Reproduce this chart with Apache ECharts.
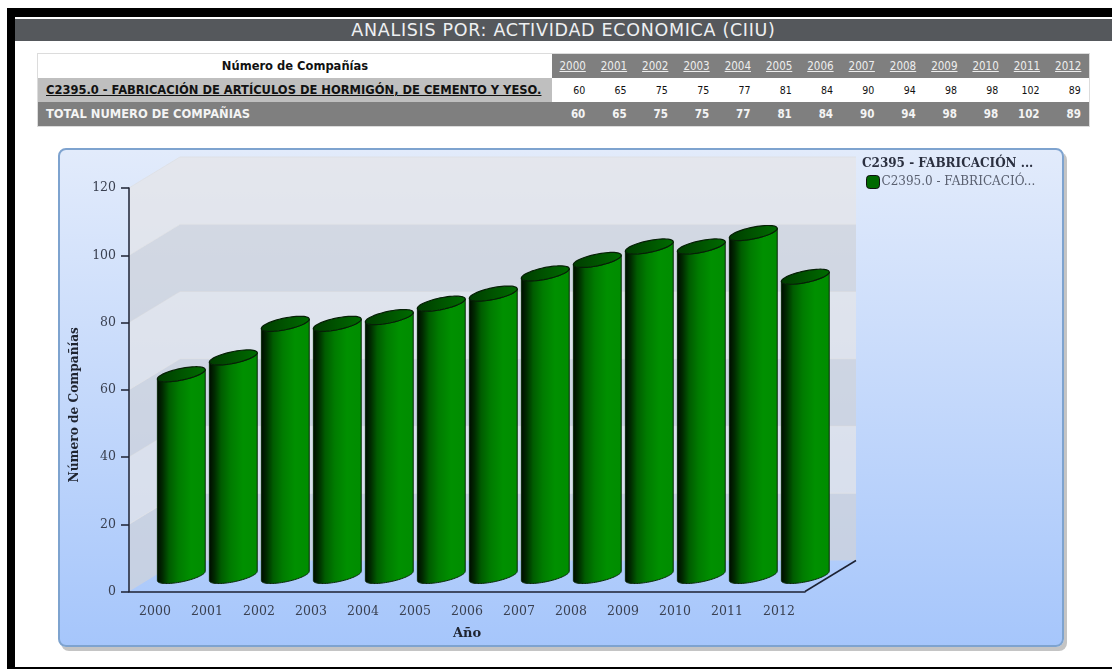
<!DOCTYPE html>
<html>
<head>
<meta charset="utf-8">
<title>Analisis por actividad economica</title>
<script src="https://cdn.jsdelivr.net/npm/echarts@6/dist/echarts.min.js"></script>
<style>
    html, body { margin: 0; padding: 0; background: #fff; }
    #page { position: relative; width: 1112px; height: 669px; overflow: hidden; background: #fff; }
    .black { position: absolute; background: #000; }
    #titlebar {
        position: absolute; left: 15px; right: 0; top: 19px; height: 22px;
        background: #55585c; color: #eef0f2; text-align: center;
        font: 17.5px/22px "DejaVu Sans", sans-serif; letter-spacing: 0.7px;
    }
    #tbl {
        position: absolute; left: 38px; top: 54px; border-collapse: collapse; table-layout: fixed;
        font-family: "DejaVu Sans Condensed", "DejaVu Sans", sans-serif; font-size: 10.5px; color: #111;
        box-shadow: 0 0 0 1px #dcdcdc;
    }
    #tbl td { height: 24px; padding: 0; white-space: nowrap; overflow: hidden; }
    #tbl .name { width: 514px; font-family: "DejaVu Sans", sans-serif; font-size: 11.5px; font-weight: bold; }
    #tbl .yr { width: 41.3px; }
    #tbl .hd { background: #fff; text-align: center; }
    #tbl .yrh { background: #7f7f7f; color: #eee; text-align: center; text-decoration: underline; font-size: 11.5px; }
    #tbl .cat { background: #bfbfbf; text-decoration: underline; padding-left: 8px; box-sizing: border-box; }
    #tbl .val { text-align: right; padding-right: 8px; box-sizing: border-box; }
    #tbl .tot { background: #7f7f7f; color: #f4f4f4; font-weight: bold; }
    #tbl .yr.tot { font-size: 11.5px; }
    #tbl .totn { padding-left: 8px; box-sizing: border-box; }
    #panel {
        position: absolute; left: 58px; top: 148px; width: 1006px; height: 499px; box-sizing: border-box;
        border: 2px solid #7ea3cf; border-radius: 8px;
        background: linear-gradient(#e2ebfb, #a6c6fb);
        box-shadow: 3px 4px 0 #c4c4c4;
    }
    #chart { position: absolute; left: 58px; top: 148px; width: 1006px; height: 499px; }
</style>
</head>
<body>
<div id="page">
    <div class="black" style="left:7px;top:8px;right:0;height:9px"></div>
    <div class="black" style="left:7px;top:8px;width:8px;bottom:0"></div>
    <div class="black" style="left:7px;right:0;top:667px;height:2px"></div>
    <div id="titlebar">ANALISIS POR: ACTIVIDAD ECONOMICA (CIIU)</div>
    <table id="tbl"></table>
    <div id="panel"></div>
    <div id="chart"></div>
</div>
<script type="text/javascript">
    var years = ['2000', '2001', '2002', '2003', '2004', '2005', '2006', '2007', '2008', '2009', '2010', '2011', '2012'];
    var companies = [60, 65, 75, 75, 77, 81, 84, 90, 94, 98, 98, 102, 89];
    var totals = [60, 65, 75, 75, 77, 81, 84, 90, 94, 98, 98, 102, 89];
    var yTicks = [0, 20, 40, 60, 80, 100, 120];
    var tableHead = 'Número de Compañías';
    var rowName = 'C2395.0 - FABRICACIÓN DE ARTÍCULOS DE HORMIGÓN, DE CEMENTO Y YESO.';
    var totalName = 'TOTAL NUMERO DE COMPAÑIAS';
    var legendTitle = 'C2395 - FABRICACIÓN ...';
    var legendName = 'C2395.0 - FABRICACIÓ...';

    // tabla de arriba
    var html = '<tr><td class="name hd">' + tableHead + '</td>';
    years.forEach(function (y) { html += '<td class="yr yrh">' + y + '</td>'; });
    html += '</tr><tr><td class="name cat">' + rowName + '</td>';
    companies.forEach(function (v) { html += '<td class="yr val">' + v + '</td>'; });
    html += '</tr><tr><td class="name tot totn">' + totalName + '</td>';
    totals.forEach(function (v) { html += '<td class="yr val tot">' + v + '</td>'; });
    html += '</tr>';
    document.getElementById('tbl').innerHTML = html;

    // profundidad del falso 3D
    var depthX = 51, depthY = -31;
    var capA = 24.4, capB = 5.8, capRot = -11.7 * Math.PI / 180;

    function ellipsePoint(cx, cy, t) {
        var px = capA * Math.cos(t), py = capB * Math.sin(t);
        return [cx + px * Math.cos(capRot) - py * Math.sin(capRot),
                cy + px * Math.sin(capRot) + py * Math.cos(capRot)];
    }

    function renderWall(params, api) {
        var rect = params.coordSys;
        var low = api.coord([0, api.value(1)])[1];
        var high = api.coord([0, api.value(2)])[1];
        var left = rect.x, right = rect.x + rect.width;
        var fill = api.value(0) % 2 === 0 ? 'rgba(208,210,217,0.72)' : 'rgba(228,229,232,0.72)';
        var side = [[left, low], [left + depthX, low + depthY], [left + depthX, high + depthY], [left, high]];
        var back = [[left + depthX, low + depthY], [right + depthX, low + depthY], [right + depthX, high + depthY], [left + depthX, high + depthY]];
        var edge = [[left, high], [left + depthX, high + depthY], [right + depthX, high + depthY]];
        return {
            type: 'group',
            children: [
                { type: 'polygon', shape: { points: side }, style: { fill: fill } },
                { type: 'polygon', shape: { points: back }, style: { fill: fill } },
                { type: 'polyline', shape: { points: edge }, style: { fill: 'none', stroke: 'rgba(222,224,228,0.9)', lineWidth: 1 } }
            ]
        };
    }

    function renderFloor(params, api) {
        var rect = params.coordSys;
        var y0 = api.coord([0, 0])[1], x1 = rect.x + rect.width;
        return {
            type: 'line',
            shape: { x1: x1, y1: y0, x2: x1 + depthX, y2: y0 + depthY },
            style: { stroke: '#1c2233', lineWidth: 1.5 }
        };
    }

    function renderCylinder(params, api) {
        var base = api.coord([api.value(0), 0]);
        var top = api.coord([api.value(0), api.value(1)]);
        var cx = base[0] + depthX / 2 + 0.8;
        var baseY = base[1] + depthY / 2;
        var topY = top[1] + depthY / 2;
        var t0 = Math.atan2(-capB * Math.tan(capRot), capA);
        var body = [], cap = [], i;
        for (i = 0; i <= 40; i++) {
            body.push(ellipsePoint(cx, baseY, t0 + Math.PI * i / 40));
        }
        for (i = 0; i <= 40; i++) {
            body.push(ellipsePoint(cx, topY, t0 + Math.PI - Math.PI * i / 40));
        }
        for (i = 0; i < 60; i++) {
            cap.push(ellipsePoint(cx, topY, Math.PI * 2 * i / 60));
        }
        return {
            type: 'group',
            children: [
                {
                    type: 'polygon',
                    shape: { points: body },
                    style: {
                        fill: new echarts.graphic.LinearGradient(0, 0, 1, 0, [
                            { offset: 0, color: '#000a00' },
                            { offset: 0.12, color: '#002c00' },
                            { offset: 0.25, color: '#005c00' },
                            { offset: 0.45, color: '#007c00' },
                            { offset: 0.7, color: '#009000' },
                            { offset: 1, color: '#008c00' }
                        ]),
                        stroke: '#0a2a0a',
                        lineWidth: 1
                    }
                },
                {
                    type: 'polygon',
                    shape: { points: cap },
                    style: {
                        fill: new echarts.graphic.LinearGradient(0, 0, 1, 0, [
                            { offset: 0, color: '#003c00' },
                            { offset: 1, color: '#006c00' }
                        ]),
                        stroke: '#062006',
                        lineWidth: 1.2
                    }
                }
            ]
        };
    }

    var chartFont = '"DejaVu Serif", serif';
    var myChart = echarts.init(document.getElementById('chart'), null, { renderer: 'canvas' });
    myChart.setOption({
        animation: false,
        backgroundColor: 'transparent',
        title: {
            text: legendTitle,
            left: 799,
            top: 5,
            textStyle: { fontFamily: chartFont, fontSize: 12, fontWeight: 'bold', color: '#2b3040' }
        },
        legend: {
            left: 803,
            top: 22,
            itemWidth: 13,
            itemHeight: 13,
            itemGap: 4,
            data: [{
                name: legendName,
                icon: 'roundRect',
                itemStyle: { color: '#006a00', borderColor: '#111', borderWidth: 1 }
            }],
            textStyle: { fontFamily: chartFont, fontSize: 12, color: '#5a6070', padding: [0, 0, 0, -3] }
        },
        grid: { left: 71, top: 40, width: 676, height: 403.5 },
        xAxis: {
            type: 'category',
            z: 5,
            data: years,
            name: 'Año',
            nameLocation: 'middle',
            nameGap: 36,
            nameTextStyle: { fontFamily: chartFont, fontSize: 13, fontWeight: 'bold', color: '#1f2430' },
            axisLine: { lineStyle: { color: '#1c2233', width: 1.5 } },
            axisTick: { alignWithLabel: true, length: 8, lineStyle: { color: '#1c2233', width: 1.5 } },
            axisLabel: { fontFamily: chartFont, fontSize: 12.5, color: '#3a4050', margin: 14, interval: 0 }
        },
        yAxis: {
            type: 'value',
            z: 5,
            min: 0,
            max: yTicks[yTicks.length - 1],
            interval: 20,
            name: 'Número de Compañías',
            nameLocation: 'middle',
            nameRotate: 90,
            nameGap: 42,
            nameTextStyle: { fontFamily: chartFont, fontSize: 12.2, fontWeight: 'bold', color: '#1f2430', padding: [0, 30, 0, 0] },
            splitLine: { show: false },
            axisLine: { show: true, lineStyle: { color: '#1c2233', width: 1.5 } },
            axisTick: { show: true, length: 8, lineStyle: { color: '#1c2233', width: 1.5 } },
            axisLabel: { fontFamily: chartFont, fontSize: 12.5, color: '#3a4050', margin: 13 }
        },
        series: [
            {
                type: 'custom',
                silent: true,
                clip: false,
                z: 1,
                renderItem: renderWall,
                encode: { x: 0, y: 1 },
                data: yTicks.slice(0, -1).map(function (v, i) { return [i, v, yTicks[i + 1]]; })
            },
            {
                type: 'custom',
                silent: true,
                clip: false,
                z: 2,
                renderItem: renderFloor,
                data: [[0, 0]]
            },
            {
                name: legendName,
                type: 'custom',
                clip: false,
                z: 3,
                renderItem: renderCylinder,
                encode: { x: 0, y: 1 },
                itemStyle: { color: '#006a00' },
                data: companies.map(function (v, i) { return [i, v]; })
            }
        ]
    });
</script>
</body>
</html>
